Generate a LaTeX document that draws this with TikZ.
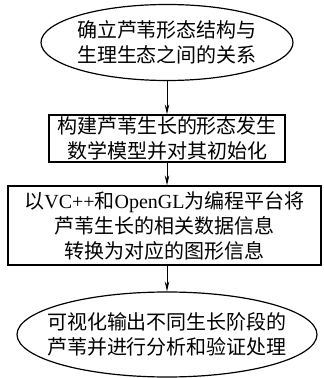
\documentclass[tikz,border=0pt]{standalone}
\usepackage{fontspec}
\setmainfont{Liberation Serif}
\newfontfamily\cjk{Noto Sans CJK SC}
\usetikzlibrary{arrows.meta,shapes.geometric}
\begin{document}
\begin{tikzpicture}[x=1pt,y=1pt,
 frame/.style={draw, line width=1.2pt},
 oval/.style={frame, ellipse, inner sep=0pt},
 box/.style={frame, rectangle, inner sep=0pt},
 txt/.style={align=center, font=\fontsize{20}{25}\selectfont\cjk, inner sep=0pt},
 flow/.style={line width=1pt, -{Stealth[length=10pt,width=4.5pt]}}]
\useasboundingbox (0,0) rectangle (324,378);
\node[oval, minimum width=252pt, minimum height=76pt] (e1) at (167,335.5) {};
\node[txt] (t1) at (e1.center) {确立芦苇形态结构与\\生理生态之间的关系};
\node[box, minimum width=236pt, minimum height=47pt] (b2) at (167,239.5) {};
\node[txt] (t2) at (b2.center) {构建芦苇生长的形态发生\\数学模型并对其初始化};
\node[box, minimum width=313pt, minimum height=79pt] (b3) at (164.5,152.5) {};
\node[txt] (t3) at (b3.center) {以{\rmfamily VC++}和{\rmfamily OpenGL}为编程平台将\\芦苇生长的相关数据信息\\转换为对应的图形信息};
\node[oval, minimum width=300pt, minimum height=85pt] (e4) at (167,43.5) {};
\node[txt] (t4) at (e4.center) {可视化输出不同生长阶段的\\芦苇并进行分析和验证处理};
\draw[flow] (e1.south) -- (b2.north);
\draw[flow] (b2.south) -- (b2.south |- b3.north);
\draw[flow] (b3.south -| e4.north) -- (e4.north);
\end{tikzpicture}
\end{document}
